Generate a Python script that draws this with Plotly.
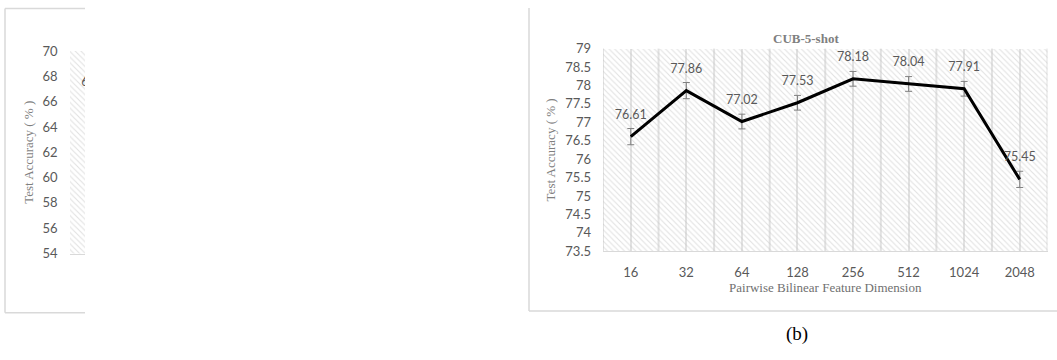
import plotly.graph_objects as go

# Pairwise bilinear feature dimensions (x categories)
dims = ["16", "32", "64", "128", "256", "512", "1024", "2048"]

# CUB 5-shot test accuracy (%) and its error half-widths
cub5_acc = [76.61, 77.86, 77.02, 77.53, 78.18, 78.04, 77.91, 75.45]
cub5_err = [0.22, 0.22, 0.20, 0.20, 0.20, 0.20, 0.20, 0.22]

# Neighbouring panel (only its left edge is on the page)
left_acc = [65.85]
left_err = [0.40]

# y-axis ranges and tick steps
left_range, left_step = [54, 70], 2
right_range, right_step = [73.5, 79], 0.5

W, H = 1057, 360


def px(x):
    return x / W


def py(y):
    return 1 - y / H


TICK_FONT = dict(family="Lato", size=13, color="#595959")
SERIF_GREY = dict(family="Liberation Serif", size=13, color="#7f7f7f")
FRAME = "#d9d9d9"
GRID = "#e2e2e2"
HATCH = dict(shape="\\", fgcolor="#c4c4c4", size=4, solidity=0.28)

fig = go.Figure()


def hatch_trace(lo, hi, xa, ya):
    return go.Bar(
        x=dims, y=[hi - lo] * len(dims), base=[lo] * len(dims), width=1,
        marker=dict(color="rgba(0,0,0,0)", line_width=0, pattern=HATCH),
        hoverinfo="skip", showlegend=False, xaxis=xa, yaxis=ya,
    )


# hatched plot-area fill for both panels
fig.add_trace(hatch_trace(left_range[0], left_range[1], "x", "y"))
fig.add_trace(hatch_trace(right_range[0], right_range[1], "x2", "y2"))


def series(vals, errs, xa, ya):
    return go.Scatter(
        x=dims[: len(vals)], y=vals,
        mode="lines+markers+text",
        line=dict(color="#000000", width=3),
        marker=dict(size=22, color="rgba(0,0,0,0)"),
        error_y=dict(type="data", array=errs, visible=True,
                     color="#808080", thickness=1, width=3.5),
        text=[f"{v:.2f}" for v in vals], textposition="top center",
        textfont=dict(family="Lato", size=12.5, color="#595959"),
        cliponaxis=True, showlegend=False, hoverinfo="skip",
        xaxis=xa, yaxis=ya,
    )


fig.add_trace(series(left_acc, left_err, "x", "y"))
fig.add_trace(series(cub5_acc, cub5_err, "x2", "y2"))

band = (1047.5 - 603) / len(dims)

fig.update_layout(
    width=W, height=H,
    margin=dict(l=0, r=0, t=0, b=0),
    paper_bgcolor="white", plot_bgcolor="rgba(0,0,0,0)",
    barmode="overlay", bargap=0,
    xaxis=dict(
        domain=[px(69.5), px(85)], anchor="y", type="category",
        categoryorder="array", categoryarray=dims,
        range=[-0.5, -0.5 + 15.5 / band],
        showticklabels=False, showgrid=False, zeroline=False,
        showline=True, linecolor=FRAME, linewidth=1, ticks="",
    ),
    yaxis=dict(
        domain=[py(257), py(45)], anchor="x", range=left_range,
        tick0=left_range[0], dtick=left_step, showgrid=False, zeroline=False,
        tickfont=TICK_FONT, ticks="", ticklabelstandoff=11,
        title=dict(text="Test Accuracy ( % )", font=SERIF_GREY, standoff=5),
    ),
    xaxis2=dict(
        domain=[px(603), px(1047.5)], anchor="y2", type="category",
        categoryorder="array", categoryarray=dims, range=[-0.5, len(dims) - 0.5],
        showgrid=True, gridcolor=GRID, gridwidth=2, zeroline=False,
        showline=True, linecolor=FRAME, linewidth=1, ticks="",
        tickfont=TICK_FONT, ticklabelstandoff=9,
        title=dict(text="Pairwise Bilinear Feature Dimension",
                   font=dict(family="Liberation Serif", size=13, color="#707070"),
                   standoff=4),
    ),
    yaxis2=dict(
        domain=[py(254.5), py(42.5)], anchor="x2", range=right_range,
        tick0=right_range[0], dtick=right_step,
        showgrid=False, zeroline=False,
        tickfont=TICK_FONT, ticks="", ticklabelstandoff=11,
        title=dict(text="Test Accuracy ( % )", font=SERIF_GREY, standoff=6),
    ),
)

# gridlines on category boundaries of the right panel
shapes = []
for i in range(len(dims) + 1):
    shapes.append(dict(type="line", xref="x2", yref="y2 domain",
                       x0=i - 0.5, x1=i - 0.5, y0=0, y1=1,
                       line=dict(color=GRID, width=2), layer="below"))


def frame_line(x0, y0, x1, y1):
    return dict(type="line", xref="paper", yref="paper",
                x0=px(x0), y0=py(y0), x1=px(x1), y1=py(y1),
                line=dict(color=FRAME, width=1.5))


# chart-area borders
shapes += [
    frame_line(5, 0.5, 85, 0.5),
    frame_line(5, 0.5, 5, 319),
    frame_line(5, 319, 85, 319),
    frame_line(529, 0, 529, 317),
    frame_line(529, 317, W, 317),
]
fig.update_layout(shapes=shapes)

fig.add_annotation(text="<b>CUB-5-shot</b>", xref="paper", yref="paper",
                   x=px(806), y=py(32), xanchor="center", yanchor="middle",
                   showarrow=False,
                   font=dict(family="Liberation Serif", size=13, color="#7f7f7f"))
fig.add_annotation(text="(b)", xref="paper", yref="paper",
                   x=px(797), y=py(341), xanchor="center", yanchor="middle",
                   showarrow=False,
                   font=dict(family="Liberation Serif", size=19, color="#000000"))

fig.write_html(
    "out.html",
    post_script="document.body.style.margin='0';"
                "document.body.style.overflow='hidden';",
)
